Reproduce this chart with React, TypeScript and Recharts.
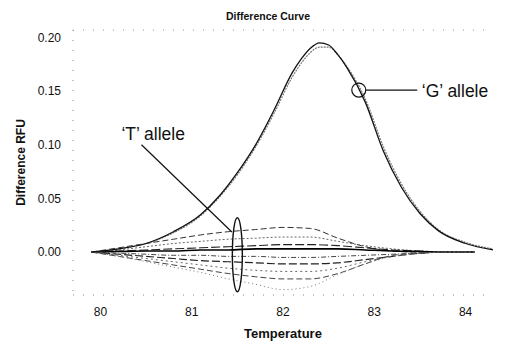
import { LineChart, Line, XAxis, YAxis, ReferenceLine, ReferenceDot, Label } from "recharts";

// 'G' allele curves (upper solid, lower dotted)
const gTemps = [79.9, 80.2, 80.5, 80.8, 81.1, 81.3, 81.5, 81.7, 81.9, 82.1, 82.2, 82.3, 82.4, 82.5, 82.6, 82.7, 82.9, 83.1, 83.3, 83.5, 83.7, 84.0, 84.3];
const gUpper = [0.0, 0.003, 0.008, 0.019, 0.035, 0.052, 0.074, 0.1, 0.132, 0.167, 0.18, 0.19, 0.195, 0.193, 0.184, 0.172, 0.14, 0.094, 0.06, 0.036, 0.02, 0.008, 0.002];
const gLower = [0.0, 0.003, 0.008, 0.018, 0.034, 0.051, 0.072, 0.098, 0.129, 0.163, 0.176, 0.186, 0.191, 0.191, 0.184, 0.173, 0.143, 0.098, 0.063, 0.038, 0.021, 0.009, 0.003];

// 'T' allele curves
const tTemps = [79.9, 80.2, 80.5, 80.8, 81.1, 81.4, 81.7, 82.0, 82.3, 82.6, 82.9, 83.2, 83.5, 83.8, 84.1];
const t1 = [0, 0.004, 0.008, 0.012, 0.016, 0.019, 0.021, 0.023, 0.022, 0.013, 0.005, 0.001, 0, 0, 0];
const t2 = [0, 0.002, 0.005, 0.008, 0.01, 0.012, 0.013, 0.014, 0.014, 0.01, 0.006, 0.003, 0.001, 0, 0];
const t3 = [0, 0.001, 0.002, 0.003, 0.004, 0.005, 0.006, 0.007, 0.007, 0.006, 0.004, 0.002, 0.001, 0, 0];
const t4 = [0, 0.0005, 0.001, 0.001, 0.002, 0.002, 0.003, 0.003, 0.003, 0.003, 0.002, 0.001, 0.0005, 0, 0];
const t5 = [0, -0.001, -0.002, -0.003, -0.003, -0.004, -0.004, -0.005, -0.005, -0.004, -0.003, -0.002, -0.001, 0, 0];
const t6 = [0, -0.002, -0.004, -0.006, -0.008, -0.009, -0.01, -0.011, -0.011, -0.01, -0.007, -0.004, -0.001, 0, 0];
const t7 = [0, -0.003, -0.006, -0.009, -0.012, -0.015, -0.017, -0.018, -0.018, -0.015, -0.009, -0.004, -0.001, 0, 0];
const t8 = [0, -0.004, -0.008, -0.012, -0.016, -0.02, -0.023, -0.025, -0.025, -0.02, -0.011, -0.003, -0.001, 0, 0];
const t9 = [0, -0.004, -0.009, -0.014, -0.019, -0.025, -0.03, -0.035, -0.032, -0.021, -0.011, -0.004, -0.001, 0, 0];

const xTicks = [80, 81, 82, 83, 84];
const yTicks = [0, 0.05, 0.1, 0.15, 0.2];

const gData = gTemps.map((t, i) => ({ temp: t, upper: gUpper[i], lower: gLower[i] }));
const tData = tTemps.map((t, i) => ({
  temp: t, t1: t1[i], t2: t2[i], t3: t3[i], t4: t4[i], t5: t5[i], t6: t6[i], t7: t7[i], t8: t8[i], t9: t9[i],
}));

const tStyles = [
  { key: "t1", stroke: "#333", dash: "6 3", w: 1 },
  { key: "t2", stroke: "#666", dash: "2 2", w: 1 },
  { key: "t3", stroke: "#222", dash: "9 3", w: 1.1 },
  { key: "t4", stroke: "#000", dash: undefined, w: 1.6 },
  { key: "t5", stroke: "#444", dash: "5 2 1 2", w: 1 },
  { key: "t6", stroke: "#222", dash: "8 3", w: 1.2 },
  { key: "t7", stroke: "#666", dash: "2 3", w: 1 },
  { key: "t8", stroke: "#444", dash: "6 3", w: 1 },
  { key: "t9", stroke: "#777", dash: "1 3", w: 1 },
];

const font = "'Liberation Sans', Arial, sans-serif";

export default function App() {
  return (
    <div style={{ position: "absolute", left: 0, top: 0, width: 512, height: 343, background: "#fff", fontFamily: font }}>
      <div style={{ position: "absolute", top: 10, left: 0, width: 536, textAlign: "center", fontSize: 10.5, fontWeight: "bold", color: "#111" }}>
        Difference Curve
      </div>
      <LineChart width={512} height={343} margin={{ top: 30, right: 19, bottom: 0, left: 0 }}>
        <XAxis
          dataKey="temp"
          type="number"
          domain={[79.7, 84.3]}
          ticks={xTicks}
          allowDuplicatedCategory={false}
          height={48}
          tickSize={0}
          tickMargin={12}
          tickFormatter={(v) => String(v)}
          axisLine={{ stroke: "#888", strokeDasharray: "1 9" }}
          tick={{ fontSize: 12, fill: "#111", fontFamily: font }}
        >
          <Label value="Temperature" position="insideBottom" offset={5} style={{ fontSize: 13, fontWeight: "bold", fill: "#111", fontFamily: font }} />
        </XAxis>
        <YAxis
          type="number"
          domain={[-0.04, 0.207]}
          ticks={yTicks}
          width={73}
          tickSize={0}
          tickMargin={12}
          tickFormatter={(v) => v.toFixed(2)}
          axisLine={{ stroke: "#888", strokeDasharray: "1 9" }}
          tick={{ fontSize: 12, fill: "#111", fontFamily: font }}
        >
          <Label value="Difference RFU" angle={-90} position="insideLeft" offset={21} style={{ fontSize: 12, fontWeight: "bold", fill: "#111", fontFamily: font, textAnchor: "middle" }} />
        </YAxis>
        <ReferenceLine y={0.207} stroke="#999" strokeDasharray="1 9" />

        {tStyles.map((s) => (
          <Line
            key={s.key}
            data={tData}
            dataKey={s.key}
            type="monotone"
            stroke={s.stroke}
            strokeWidth={s.w}
            strokeDasharray={s.dash}
            dot={false}
            isAnimationActive={false}
          />
        ))}
        <Line data={gData} dataKey="lower" type="monotone" stroke="#777" strokeWidth={1.2} strokeDasharray="2 1" dot={false} isAnimationActive={false} />
        <Line data={gData} dataKey="upper" type="monotone" stroke="#111" strokeWidth={1.3} dot={false} isAnimationActive={false} />

        {/* 'G' allele callout */}
        <ReferenceDot x={82.83} y={0.151} r={7} fill="none" stroke="#111" strokeWidth={1.2} />
        <ReferenceLine segment={[{ x: 82.91, y: 0.151 }, { x: 83.47, y: 0.151 }]} stroke="#111" strokeWidth={1.2} />
        <ReferenceDot
          x={83.52}
          y={0.151}
          r={0}
          shape={(p: any) => (
            <text x={p.cx} y={p.cy + 7} fontSize={17.5} fontFamily={font} fill="#111">
              {"\u2018G\u2019 allele"}
            </text>
          )}
        />

        {/* 'T' allele callout */}
        <ReferenceLine segment={[{ x: 80.45, y: 0.1 }, { x: 81.44, y: 0.0187 }]} stroke="#111" strokeWidth={1.2} />
        <ReferenceDot
          x={81.5}
          y={-0.0025}
          r={0}
          shape={(p: any) => <ellipse cx={p.cx} cy={p.cy} rx={5} ry={37} fill="none" stroke="#111" strokeWidth={1.4} />}
        />
        <ReferenceDot
          x={80.23}
          y={0.111}
          r={0}
          shape={(p: any) => (
            <text x={p.cx} y={p.cy + 7} fontSize={17.5} fontFamily={font} fill="#111">
              {"\u2018T\u2019 allele"}
            </text>
          )}
        />
      </LineChart>
    </div>
  );
}
